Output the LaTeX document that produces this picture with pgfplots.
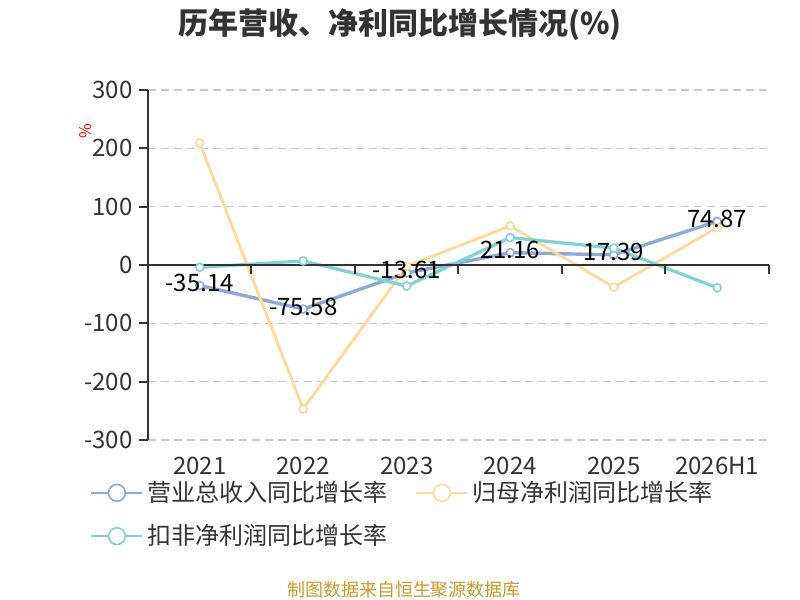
\documentclass[border=0pt]{standalone}
\usepackage{pgfplots}
\pgfplotsset{compat=1.18}
\usepackage{fontspec}
\setmainfont{Noto Sans CJK SC}
\definecolor{cblue}{RGB}{142,168,219}
\definecolor{corange}{RGB}{255,217,150}
\definecolor{cteal}{RGB}{126,211,214}
\definecolor{ctext}{RGB}{51,51,51}
\definecolor{cgrid}{RGB}{200,200,200}
\definecolor{cfoot}{RGB}{204,153,40}
\begin{document}
\begin{tikzpicture}
\path[use as bounding box] (0,0) rectangle (400pt,300pt);
\begin{axis}[
  at={(74pt,80pt)}, anchor=south west,
  scale only axis, width=310.5pt, height=175pt,
  xmin=-0.5, xmax=5.5, ymin=-300, ymax=300,
  clip=false,
  axis lines=left, axis line style={-},
  x axis line style={draw=none},
  y axis line style={draw=ctext, line width=1pt},
  xtick={0,1,2,3,4,5},
  xticklabels={2021,2022,2023,2024,2025,2026H1},
  xtick style={draw=none},
  ytick={-300,-200,-100,0,100,200,300},
  yticklabels={{-300},{-200},{-100},{0},{100},{200},{300}},
  ytick style={draw=ctext, line width=1pt},
  tick align=outside, major tick length=4.25pt,
  ymajorgrids, grid style={cgrid, line width=0.8pt, dash pattern=on 4pt off 2.5pt},
  tick label style={font=\fontsize{12pt}{14pt}\selectfont, text=ctext},
  xticklabel style={anchor=base, yshift=-13pt},
  yticklabel style={anchor=east},
  legend columns=2,
  legend style={at={(axis description cs:-0.0934,-0.105)}, anchor=north west,
    draw=none, fill=none, inner sep=0pt,
    font=\fontsize{12pt}{14pt}\selectfont, text=ctext,
    /tikz/every even column/.append style={column sep=12pt},
    row sep=6pt},
  legend image code/.code={\draw[mark repeat=2,mark phase=2] plot coordinates {(0pt,0pt) (12.75pt,0pt) (25.5pt,0pt)};},
  legend image post style={mark size=4.2pt, line width=1pt},
]
\addplot[cblue, line width=1.7pt, mark=*, mark size=2pt, mark options={fill=white, draw=cblue, line width=0.8pt}]
  coordinates {(0,-35.14) (1,-75.58) (2,-13.61) (3,21.16) (4,17.39) (5,74.87)};
\addlegendentry{营业总收入同比增长率}
\addplot[corange, line width=1.4pt, mark=*, mark size=2pt, mark options={fill=white, draw=corange, line width=0.8pt}]
  coordinates {(0,209) (1,-247) (2,-2) (3,67) (4,-38) (5,64)};
\addlegendentry{归母净利润同比增长率}
\addplot[cteal, line width=1.6pt, mark=*, mark size=2pt, mark options={fill=white, draw=cteal, line width=0.8pt}]
  coordinates {(0,-4) (1,7) (2,-36) (3,47) (4,29) (5,-39)};
\addlegendentry{扣非净利润同比增长率}
\addplot[draw=none, mark=none, forget plot, point meta=explicit symbolic,
  nodes near coords, every node near coord/.append style={anchor=center, yshift=1.25pt, font=\fontsize{12pt}{14pt}\selectfont, text=black}]
  coordinates {(0,-35.14) [-35.14] (1,-75.58) [-75.58] (2,-13.61) [-13.61] (3,21.16) [21.16] (4,17.39) [17.39] (5,74.87) [74.87]};
\draw[ctext, line width=1pt] (axis cs:-0.5,0) -- (axis cs:5.5,0);
\pgfplotsinvokeforeach{-0.5,0.5,1.5,2.5,3.5,4.5,5.5}{\draw[ctext, line width=1pt] (axis cs:#1,0) -- ([yshift=-4.25pt]axis cs:#1,0);}
\end{axis}
\node[font=\fontsize{15pt}{18pt}\selectfont\bfseries, text=ctext] at (200pt,287.5pt) {历年营收、净利同比增长情况(\%)};
\node[rotate=90, text=red, font=\fontsize{8pt}{9pt}\selectfont] at (43pt,234.5pt) {\%};
\node[font=\fontsize{9pt}{11pt}\selectfont, text=cfoot] at (202pt,5pt) {制图数据来自恒生聚源数据库};
\end{tikzpicture}
\end{document}
